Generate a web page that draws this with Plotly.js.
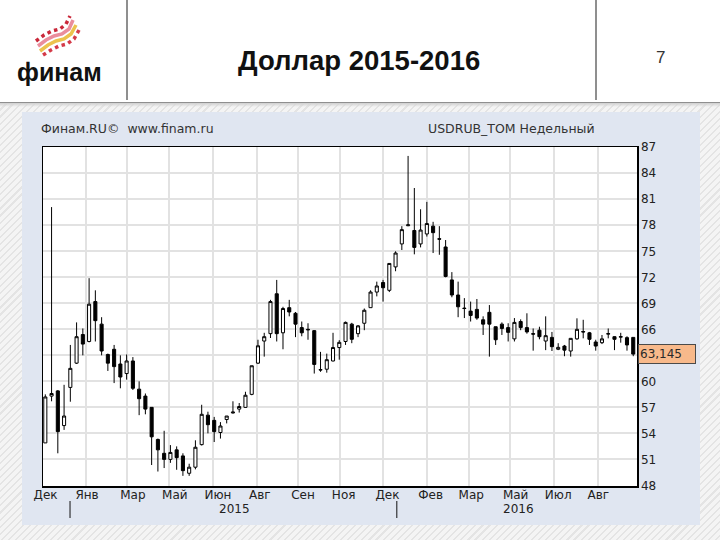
<!DOCTYPE html>
<html>
<head>
<meta charset="utf-8">
<script src="https://cdn.plot.ly/plotly-3.0.1.min.js"></script>
<style>
  html, body { margin: 0; padding: 0; }
  #chart {
    width: 720px; height: 540px;
    background:
      linear-gradient(to bottom, #ffffff 0px, #ffffff 102px, #8f8f8f 102px, #8f8f8f 103.5px, #d4d4d4 103.5px, rgba(0,0,0,0) 107px),
      repeating-linear-gradient(135deg, #f4f4f4 0px, #f4f4f4 2px, #e4e4e4 2px, #e4e4e4 3.5px, #f4f4f4 3.5px, #f4f4f4 5px);
  }
</style>
</head>
<body>
<div id="chart"></div>
<script>
// ---- Data: USDRUB_TOM weekly candles (Dec 2014 - Sep 2016) ----
const open  = [52.9,58.3,58.9,54.9,59.3,62.1,65.4,64.6,69.2,66.6,63.1,63.7,62.0,60.9,62.35,59.1,58.3,57.0,53.3,51.7,
               51.0,52.1,51.4,49.4,50.1,52.7,56.1,55.5,54.1,55.6,56.35,56.8,57.0,58.5,62.1,64.65,65.5,70.1,65.6,68.5,
               67.85,66.2,66.0,65.85,61.3,61.4,62.35,63.9,64.6,66.6,65.5,66.7,68.5,70.3,71.4,70.5,73.2,75.85,77.95,77.4,
               75.85,77.0,77.9,76.45,75.5,71.7,69.96,68.45,68.1,68.3,67.1,67.96,66.3,66.6,66.2,64.9,66.9,66.2,65.5,65.9,
               64.65,65.07,63.7,64.07,63.5,64.9,65.75,65.6,64.54,64.46,65.45,65.15,65.1,65.04,65.07];
const high  = [58.5,80.1,59.0,59.6,64.2,66.8,66.1,71.9,70.5,67.4,63.2,64.2,63.0,63.1,62.8,60.0,58.6,57.0,53.4,54.3,
               52.65,52.5,51.7,50.5,53.2,57.3,56.5,55.9,55.3,56.0,57.7,57.5,58.8,61.8,64.8,65.6,69.4,71.7,68.6,69.4,
               68.0,66.9,66.7,65.9,63.4,63.2,65.6,64.75,66.9,66.75,66.5,68.4,70.5,71.5,71.7,73.6,75.0,77.9,86.0,82.3,
               79.85,80.7,78.4,77.9,76.3,72.6,71.5,69.6,69.2,69.5,67.5,68.8,66.3,66.8,66.7,67.3,67.15,67.85,66.1,66.3,
               67.5,65.7,64.4,64.2,64.96,67.27,67.1,65.7,64.8,65.35,66.1,65.2,65.6,65.2,65.07];
const low   = [52.9,57.7,51.7,54.4,57.65,62.0,63.0,64.5,64.6,63.0,61.2,59.8,59.2,60.2,59.0,56.1,56.2,50.35,49.6,50.0,
               50.6,49.8,49.1,49.1,49.85,52.6,54.0,53.0,53.4,55.15,56.3,56.4,56.95,58.4,62.0,62.85,65.0,64.6,63.7,67.5,
               65.1,65.2,64.8,60.9,61.1,61.0,62.3,62.5,64.2,64.4,65.1,65.9,68.5,69.8,69.2,70.3,72.7,75.15,77.9,74.65,
               75.45,76.7,74.8,74.6,72.0,69.7,67.4,67.3,66.9,67.1,65.35,62.85,64.2,65.35,64.6,64.6,65.9,65.5,63.54,64.85,
               63.6,63.5,63.6,62.9,62.85,64.8,64.96,64.2,63.54,64.3,64.96,63.6,64.46,63.54,62.9];
const close = [58.2,58.6,54.2,56.0,61.5,65.15,64.3,68.9,67.0,63.5,62.1,61.7,60.5,62.35,59.2,58.0,56.8,53.6,52.1,51.0,
               51.8,51.2,49.7,50.1,52.4,56.2,55.0,54.2,54.85,56.0,56.45,57.1,58.4,61.8,64.1,65.15,69.2,65.5,68.4,68.0,
               66.6,65.6,65.95,61.95,61.35,62.5,63.9,64.5,66.8,64.85,66.4,68.2,70.3,71.0,70.8,73.6,74.8,77.5,78.05,75.45,
               77.45,78.2,77.15,76.4,72.1,69.96,68.6,68.4,67.6,67.3,66.6,66.6,64.8,66.1,65.65,66.8,66.2,65.7,65.45,65.15,
               65.27,64.0,63.92,63.6,64.96,66.0,65.7,64.85,64.07,64.9,65.5,64.85,65.15,64.2,63.145];
const lastPriceText = "63,145";

// Axis labels
const monthLabels = ["Дек","Янв","Мар","Май","Июн","Авг","Сен","Ноя","Дек","Фев","Мар","Май","Июл","Авг"];
const monthLabelWeek = [0.03,6.67,14.0,20.7,27.6,34.3,41.2,47.7,54.7,61.6,68.1,75.2,82.0,88.4];
const gridWeek = [6.51,13.11,19.82,26.86,33.80,40.45,47.11,54.04,60.98,67.74,74.30,81.38,88.41];
const yearLabels = ["2015","2016"];
const yearLabelWeek = [30.3,75.7];
const yearStartWeek = [3.95,56.2];
const yTickVals = [87,84,81,78,75,72,69,66,63,60,57,54,51,48];
const yTickText = ["87","84","81","78","75","72","69","66","","60","57","54","51","48"];

// ---- Layout geometry helpers (pixel -> paper) ----
const L = 43, R = 83, T = 147, Bm = 54, W = 720 - L - R, H = 540 - T - Bm, BOT = 540 - Bm;
const PX = p => (p - L) / W;
const PY = p => (BOT - p) / H;
const pathPx = pts => 'M ' + pts.map(p => PX(p[0]).toFixed(5) + ',' + PY(p[1]).toFixed(5)).join(' L ');

const weekIdx = open.map((_, i) => i);
const FONT = 'DejaVu Sans, Verdana, sans-serif';
const GRID = '#e2e2e2';

const trace = {
  type: 'candlestick',
  x: weekIdx, open: open, high: high, low: low, close: close,
  increasing: { line: { color: '#000000', width: 1 }, fillcolor: '#ffffff' },
  decreasing: { line: { color: '#000000', width: 1 }, fillcolor: '#000000' },
  whiskerwidth: 0,
  hoverinfo: 'skip',
  showlegend: false
};

const shapes = [
  // blue chart panel
  { type: 'rect', xref: 'paper', yref: 'paper', layer: 'below',
    x0: PX(22), x1: PX(700), y0: PY(525), y1: PY(112),
    fillcolor: '#e0e6f1', line: { width: 0 } },
  // white plotting area on top of the panel
  { type: 'rect', xref: 'paper', yref: 'paper', layer: 'below',
    x0: 0, x1: 1, y0: 0, y1: 1,
    fillcolor: '#ffffff', line: { width: 0 } },
  // header separators
  { type: 'line', xref: 'paper', yref: 'paper', x0: PX(127), x1: PX(127), y0: PY(0), y1: PY(100),
    line: { color: '#6a6a6a', width: 1.5 } },
  { type: 'line', xref: 'paper', yref: 'paper', x0: PX(596), x1: PX(596), y0: PY(0), y1: PY(100),
    line: { color: '#6a6a6a', width: 1.5 } },
  // logo ribbon
  { type: 'path', xref: 'paper', yref: 'paper', path: pathPx([[36,41],[44,35],[52,31],[60,29],[66,24],[70,16]]),
    line: { color: '#c9283a', width: 3.5, dash: 'dot' } },
  { type: 'path', xref: 'paper', yref: 'paper', path: pathPx([[38,46],[46,40],[54,36],[62,34],[69,29],[73,20]]),
    line: { color: '#ea8d9c', width: 3.5 } },
  { type: 'path', xref: 'paper', yref: 'paper', path: pathPx([[40,51],[48,45],[56,41],[64,39],[71,34],[76,25]]),
    line: { color: '#ecc24e', width: 3.5 } },
  { type: 'path', xref: 'paper', yref: 'paper', path: pathPx([[43,55],[51,50],[59,46],[67,44],[74,39],[79,30]]),
    line: { color: '#d43a48', width: 3.5, dash: 'dot' } }
];
yearStartWeek.forEach(w => shapes.push({
  type: 'line', xref: 'x', yref: 'paper', x0: w, x1: w, y0: PY(501), y1: PY(518),
  line: { color: '#111', width: 1 }
}));

const annotations = [
  { xref: 'paper', yref: 'paper', x: PX(359), y: PY(61), text: '<b>Доллар 2015-2016</b>', showarrow: false,
    xanchor: 'center', yanchor: 'middle', font: { family: 'Liberation Sans, Arial, sans-serif', size: 27.5, color: '#111' } },
  { xref: 'paper', yref: 'paper', x: PX(59), y: PY(72), text: '<b>финам</b>', showarrow: false,
    xanchor: 'center', yanchor: 'middle', font: { family: 'Liberation Sans, Arial, sans-serif', size: 25, color: '#111' } },
  { xref: 'paper', yref: 'paper', x: PX(660), y: PY(57), text: '7', showarrow: false,
    xanchor: 'center', yanchor: 'middle', font: { family: 'Liberation Sans, Arial, sans-serif', size: 17, color: '#333' } },
  { xref: 'paper', yref: 'paper', x: PX(39), y: PY(128), text: 'Финам.RU©  www.finam.ru', showarrow: false,
    xanchor: 'left', yanchor: 'middle', font: { family: FONT, size: 12.5, color: '#333' } },
  { xref: 'paper', yref: 'paper', x: PX(426), y: PY(128), text: 'USDRUB_TOM Недельный', showarrow: false,
    xanchor: 'left', yanchor: 'middle', font: { family: FONT, size: 12.5, color: '#333' } },
  { xref: 'paper', yref: 'y', x: 1, xshift: 1, y: close[close.length - 1], text: lastPriceText, showarrow: false,
    xanchor: 'left', yanchor: 'middle', align: 'left', width: 54, height: 16, borderpad: 1,
    bgcolor: '#f8b98b', bordercolor: '#4a4a4a', borderwidth: 1,
    font: { family: FONT, size: 12, color: '#2a2a2a' } }
];
yearLabels.forEach((t, i) => annotations.push({
  xref: 'x', yref: 'paper', x: yearLabelWeek[i], y: PY(509), text: t, showarrow: false,
  xanchor: 'center', yanchor: 'middle', font: { family: FONT, size: 12, color: '#222' }
}));

const layout = {
  width: 720, height: 540,
  margin: { l: L, r: R, t: T, b: Bm, pad: 0 },
  paper_bgcolor: 'rgba(0,0,0,0)',
  plot_bgcolor: '#ffffff',
  showlegend: false,
  hovermode: false,
  boxgap: 0.3,
  xaxis: {
    range: [-0.37, 94.6],
    rangeslider: { visible: false },
    tickmode: 'array', tickvals: monthLabelWeek, ticktext: monthLabels,
    showgrid: false, zeroline: false, ticks: '',
    ticklabelstandoff: -3,
    minor: { tickmode: 'array', tickvals: gridWeek, showgrid: true, gridcolor: GRID, gridwidth: 2, ticks: '' },
    showline: true, mirror: true, linecolor: '#000000', linewidth: 1.5,
    tickfont: { family: FONT, size: 12, color: '#222' },
    fixedrange: true
  },
  yaxis: {
    side: 'right',
    range: [47.93, 87.03],
    tickmode: 'array', tickvals: yTickVals, ticktext: yTickText,
    showgrid: true, gridcolor: GRID, gridwidth: 2,
    zeroline: false, ticks: '',
    showline: true, mirror: true, linecolor: '#000000', linewidth: 1.5,
    tickfont: { family: FONT, size: 12, color: '#222' },
    fixedrange: true
  },
  shapes: shapes,
  annotations: annotations
};

Plotly.newPlot('chart', [trace], layout, { staticPlot: true, displayModeBar: false });
</script>
</body>
</html>
